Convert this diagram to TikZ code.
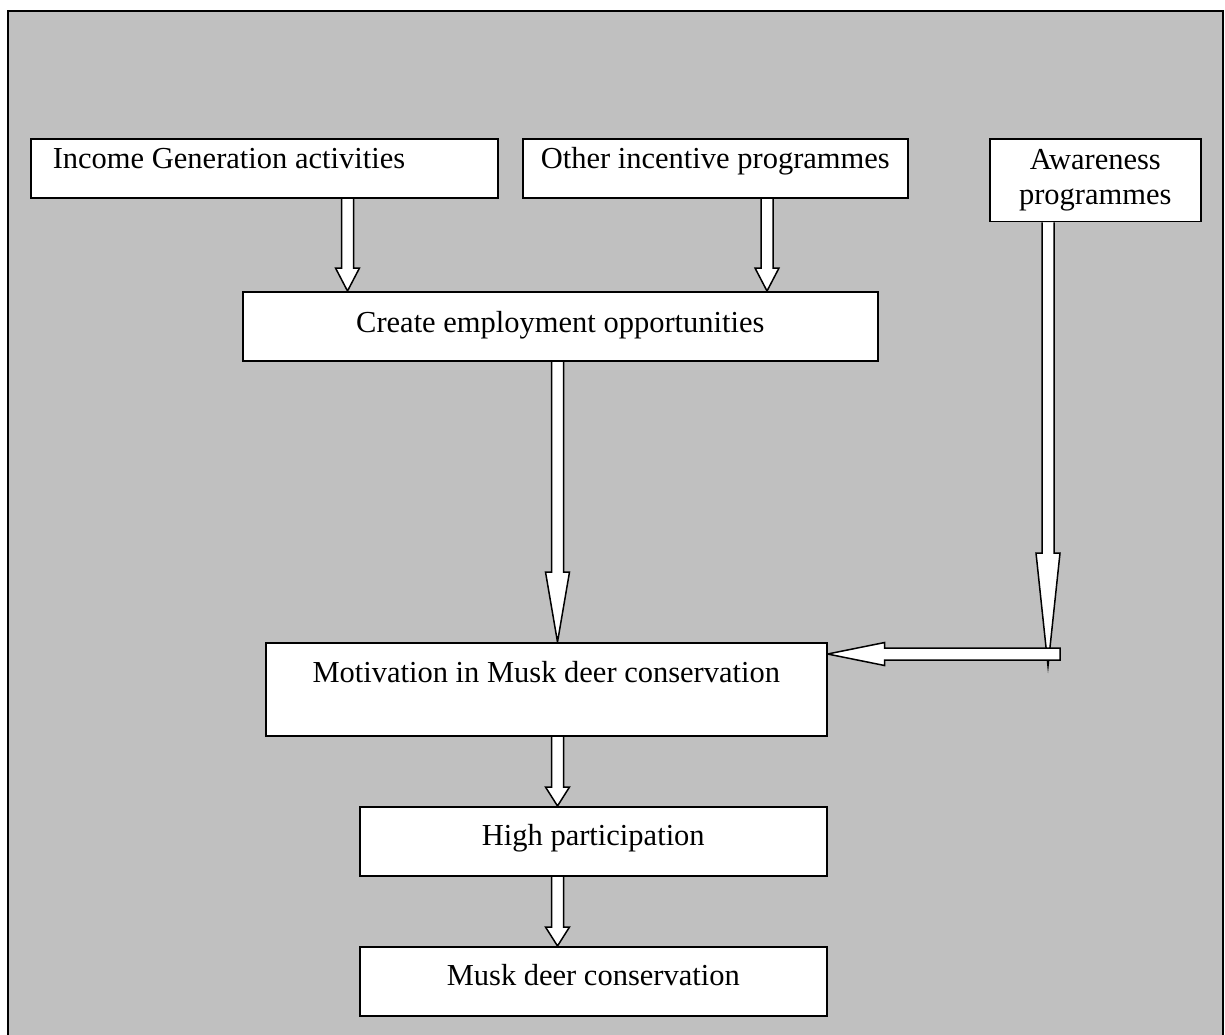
\documentclass[tikz,border=0pt]{standalone}
\usepackage{fontspec}
\setmainfont{Liberation Serif}
\usetikzlibrary{calc,backgrounds}
\definecolor{framegray}{RGB}{192,192,192}
\tikzset{
  box/.style={draw=black, fill=white, line width=1.6pt, inner xsep=0pt, inner ysep=0pt,
    font=\fontsize{30.5}{35}\selectfont, anchor=north west},
  blk/.style={draw=black, fill=white, line width=1.5pt, line join=miter},
}
\newcommand\vblk[3]{\draw[blk] let \p1=(#1), \p2=(#2) in
  (\x1-6pt,\y1) -- (\x1-6pt,\y2+#3) -- (\x1-12pt,\y2+#3) -- (\x2,\y2) --
  (\x1+12pt,\y2+#3) -- (\x1+6pt,\y2+#3) -- (\x1+6pt,\y1);}
\begin{document}
\begin{tikzpicture}[x=1pt,y=-1pt]
\useasboundingbox (0,0) rectangle (1225,1034);
\begin{scope}[on background layer]
  \fill[framegray] (8,10.8) rectangle (1222.5,1040);
  \draw[line width=2pt] (8,1040) -- (8,10.8) -- (1222.5,10.8) -- (1222.5,1040);
\end{scope}

\node[box, minimum width=467pt, text height=30pt, text depth=29pt, inner xsep=22pt,
      text width=423pt, align=flush left] (inc) at (30,138) {Income Generation activities};
\node[box, minimum width=385pt, text height=30pt, text depth=29pt] (oth) at (522,138)
      {Other incentive programmes};
\node[box, minimum width=211pt, minimum height=82.7pt, align=center] (aw) at (989,138)
      {Awareness\\programmes};
\node[box, minimum width=635pt, text height=41pt, text depth=28pt] (cre) at (242,291)
      {Create employment opportunities};
\node[box, minimum width=561pt, text height=40pt, text depth=53pt] (mot) at (265,642)
      {Motivation in Musk deer conservation};
\node[box, minimum width=467pt, text height=39pt, text depth=30pt] (hi) at (359,806)
      {High participation};
\node[box, minimum width=467pt, text height=39pt, text depth=30pt] (mu) at (359,946)
      {Musk deer conservation};

\coordinate (xa) at (347.5,0);
\coordinate (xb) at (767,0);
\coordinate (xc) at (557.5,0);
\coordinate (xd) at (1048,0);
\coordinate (awend) at (1048,666);
\coordinate (hstart) at (1060,654);

\begin{scope}[on background layer]
  \vblk{inc.south -| xa}{cre.north -| xa}{23pt}
  \vblk{oth.south -| xb}{cre.north -| xb}{23pt}
  \vblk{cre.south -| xc}{mot.north -| xc}{70pt}
  \vblk{mot.south -| xc}{hi.north -| xc}{19pt}
  \vblk{hi.south -| xc}{mu.north -| xc}{19pt}
  \vblk{aw.south -| xd}{awend}{113pt}
  \draw[blk] let \p1=(hstart), \p2=(mot.east |- hstart) in
    (\x1,\y1+6pt) -- (\x2+57pt,\y1+6pt) -- (\x2+57pt,\y1+11.5pt) -- (\x2,\y1) --
    (\x2+57pt,\y1-11.5pt) -- (\x2+57pt,\y1-6pt) -- (\x1,\y1-6pt) -- cycle;
\end{scope}
\end{tikzpicture}
\end{document}
